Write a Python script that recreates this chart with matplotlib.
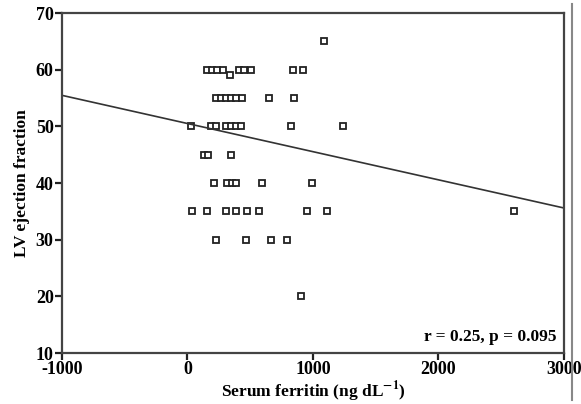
import numpy as np
import matplotlib
matplotlib.use('Agg')
import matplotlib.pyplot as plt
from matplotlib.lines import Line2D

plt.rcParams['font.family'] = 'Liberation Serif'
plt.rcParams['mathtext.fontset'] = 'stix'
plt.rcParams['axes.unicode_minus'] = False

# serum ferritin (ng/dL) and LV ejection fraction
ferritin = [1090,
            159, 199, 239, 286, 342, 414, 453, 509, 843, 922,
            231, 270, 310, 350, 390, 437, 652, 851,
            24, 191, 231, 310, 350, 390, 429, 827, 1240,
            135, 167, 350,
            215, 318, 358, 390, 596, 994,
            32, 159, 310, 390, 477, 573, 954, 1113, 2600,
            231, 469, 668, 795,
            907]
lvef = [65,
        60, 60, 60, 60, 59, 60, 60, 60, 60, 60,
        55, 55, 55, 55, 55, 55, 55, 55,
        50, 50, 50, 50, 50, 50, 50, 50, 50,
        45, 45, 45,
        40, 40, 40, 40, 40, 40,
        35, 35, 35, 35, 35, 35, 35, 35, 35,
        30, 30, 30, 30,
        20]

# fit line as drawn in the figure
fit_intercept = 50.5
fit_slope = -0.00497

fig = plt.figure(figsize=(5.81, 4.04), dpi=100)
ax = fig.add_axes([0.1067, 0.1262, 0.864, 0.8416])

ax.plot(ferritin, lvef, 's', ms=4.6, mfc='white', mec='#222222', mew=1.3)
xs = np.array([-1000, 3000])
ax.plot(xs, fit_intercept + fit_slope * xs, color='#333333', lw=1.2)

ax.set_xlim(-1000, 3000)
ax.set_ylim(10, 70)
ax.set_xticks([-1000, 0, 1000, 2000, 3000])
ax.set_yticks([10, 20, 30, 40, 50, 60, 70])
for s in ax.spines.values():
    s.set_color('#444444')
    s.set_linewidth(1.6)
ax.tick_params(direction='out', length=5, width=1.6, color='#222222',
               labelsize=13, pad=1)
for lab in ax.get_xticklabels() + ax.get_yticklabels():
    lab.set_fontweight('bold')

ax.set_xlabel('Serum ferritin (ng dL$^{\\mathbf{-1}}$)', fontsize=12.5,
              fontweight='bold', labelpad=1)
ax.set_ylabel('LV ejection fraction', fontsize=12.5, fontweight='bold', labelpad=4)

ax.text(0.985, 0.025, 'r = 0.25, p = 0.095', transform=ax.transAxes,
        ha='right', va='bottom', fontsize=12.5, fontweight='bold')

fig.add_artist(Line2D([572 / 581, 572 / 581], [0.01, 0.99], color='#888888', lw=1.5))

fig.savefig('out.png', dpi=100)
